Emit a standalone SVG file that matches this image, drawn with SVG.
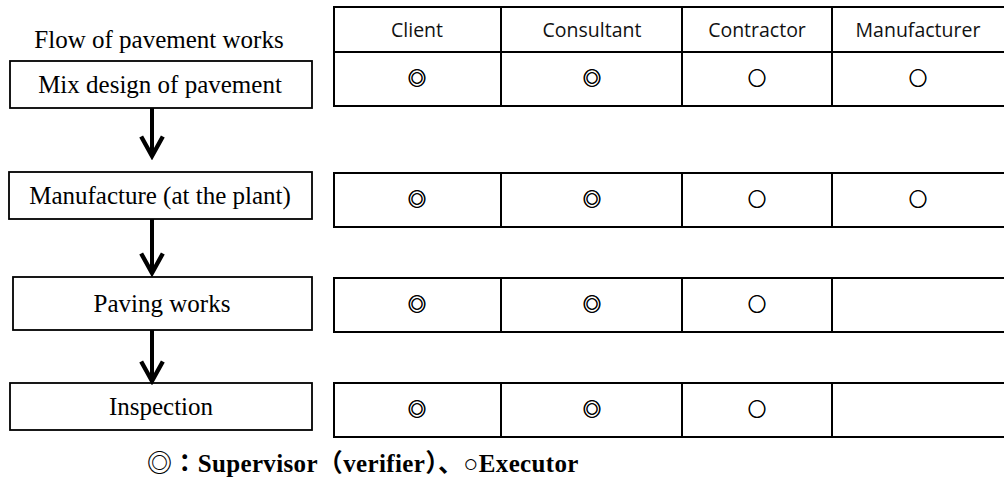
<svg xmlns="http://www.w3.org/2000/svg" width="1004" height="477" viewBox="0 0 1004 477">
  <style>
    .box { fill: #fff; stroke: #000; stroke-width: 1.8; }
    .grid { fill: none; stroke: #000; stroke-width: 2; }
    .flow { font-family: "Liberation Serif", "Times New Roman", serif; font-size: 25px; fill: #000; text-anchor: middle; }
    .head { font-family: "Open Sans", "Liberation Sans", sans-serif; font-size: 19.5px; fill: #111; text-anchor: middle; }
    .mark { font-family: "Noto Sans CJK JP", "DejaVu Sans", sans-serif; font-size: 18px; fill: #000; stroke: #000; stroke-width: 0.7; text-anchor: middle; }
    .legend { font-family: "Liberation Serif", "Noto Sans CJK JP", serif; font-size: 25px; font-weight: bold; fill: #000; letter-spacing: 0.35px; }
    .arrow { fill: none; stroke: #000; stroke-width: 4; }
  </style>
  <defs>
    <marker id="chev" viewBox="0 0 12 12" refX="10" refY="6" markerWidth="6.5" markerHeight="6.5" markerUnits="strokeWidth" orient="auto">
      <path d="M1,1 L10,6 L1,11" fill="none" stroke="#000" stroke-width="2" stroke-linejoin="miter"/>
    </marker>
  </defs>

  <!-- flow title -->
  <text class="flow" x="159" y="48">Flow of pavement works</text>

  <!-- flow steps -->
  <g id="step-mix-design">
    <rect class="box" x="10" y="61" width="302" height="47"/>
    <text class="flow" x="160" y="93">Mix design of pavement</text>
  </g>
  <g id="step-manufacture">
    <rect class="box" x="9" y="172" width="303" height="47"/>
    <text class="flow" x="160" y="204">Manufacture (at the plant)</text>
  </g>
  <g id="step-paving">
    <rect class="box" x="13" y="277" width="299" height="53"/>
    <text class="flow" x="162" y="312">Paving works</text>
  </g>
  <g id="step-inspection">
    <rect class="box" x="10" y="383" width="302" height="47"/>
    <text class="flow" x="161" y="415">Inspection</text>
  </g>

  <!-- connectors between steps -->
  <g id="connectors">
    <line class="arrow" x1="152" y1="108" x2="152" y2="156" marker-end="url(#chev)"/>
    <line class="arrow" x1="152" y1="219" x2="152" y2="273" marker-end="url(#chev)"/>
    <line class="arrow" x1="152" y1="330" x2="152" y2="381" marker-end="url(#chev)"/>
  </g>

  <!-- role table: header and mix design row -->
  <g id="row-header">
    <rect class="grid" x="334" y="7" width="680" height="99"/>
    <line class="grid" x1="334" y1="52" x2="1014" y2="52"/>
    <line class="grid" x1="501" y1="7" x2="501" y2="106"/>
    <line class="grid" x1="682" y1="7" x2="682" y2="106"/>
    <line class="grid" x1="832" y1="7" x2="832" y2="106"/>
    <text class="head" x="417" y="37">Client</text>
    <text class="head" x="592" y="37">Consultant</text>
    <text class="head" x="757" y="37">Contractor</text>
    <text class="head" x="918" y="37">Manufacturer</text>
    <text class="mark" x="417" y="85">◎</text>
    <text class="mark" x="592" y="85">◎</text>
    <text class="mark" x="757" y="85">○</text>
    <text class="mark" x="918" y="85">○</text>
  </g>

  <g id="row-manufacture">
    <rect class="grid" x="334" y="173" width="680" height="54"/>
    <line class="grid" x1="501" y1="173" x2="501" y2="227"/>
    <line class="grid" x1="682" y1="173" x2="682" y2="227"/>
    <line class="grid" x1="832" y1="173" x2="832" y2="227"/>
    <text class="mark" x="417" y="206">◎</text>
    <text class="mark" x="592" y="206">◎</text>
    <text class="mark" x="757" y="206">○</text>
    <text class="mark" x="918" y="206">○</text>
  </g>

  <g id="row-paving">
    <rect class="grid" x="334" y="278" width="680" height="54"/>
    <line class="grid" x1="501" y1="278" x2="501" y2="332"/>
    <line class="grid" x1="682" y1="278" x2="682" y2="332"/>
    <line class="grid" x1="832" y1="278" x2="832" y2="332"/>
    <text class="mark" x="417" y="311">◎</text>
    <text class="mark" x="592" y="311">◎</text>
    <text class="mark" x="757" y="311">○</text>
  </g>

  <g id="row-inspection">
    <rect class="grid" x="334" y="383" width="680" height="54"/>
    <line class="grid" x1="501" y1="383" x2="501" y2="437"/>
    <line class="grid" x1="682" y1="383" x2="682" y2="437"/>
    <line class="grid" x1="832" y1="383" x2="832" y2="437"/>
    <text class="mark" x="417" y="416">◎</text>
    <text class="mark" x="592" y="416">◎</text>
    <text class="mark" x="757" y="416">○</text>
  </g>

  <!-- legend -->
  <text class="legend" x="147" y="472">◎：Supervisor（verifier）、○Executor</text>
</svg>
